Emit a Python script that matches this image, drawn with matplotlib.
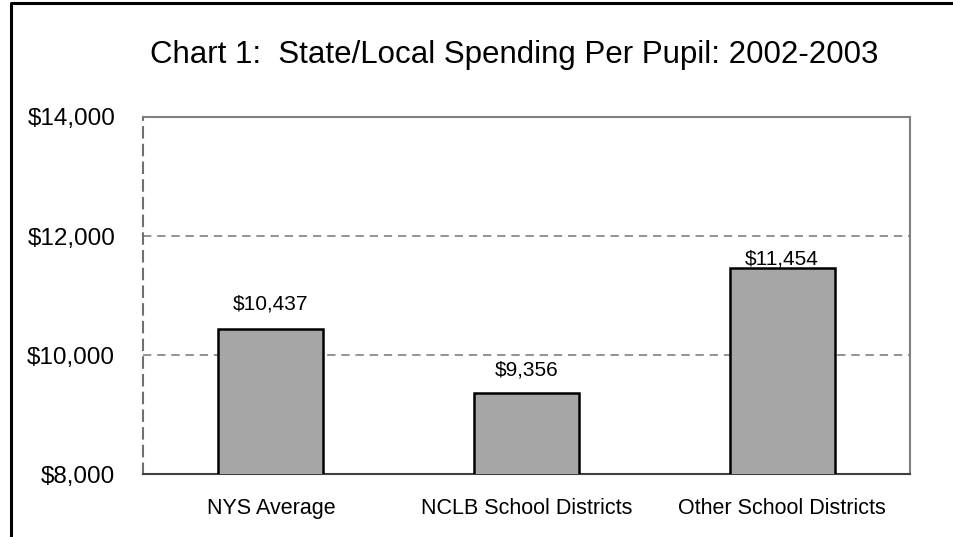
import matplotlib
matplotlib.use("Agg")
import matplotlib.pyplot as plt
from matplotlib.ticker import FuncFormatter
from matplotlib.lines import Line2D

categories = ["NYS Average", "NCLB School Districts", "Other School Districts"]
values = [10437, 9356, 11454]
yticks = [8000, 10000, 12000, 14000]
title = "Chart 1:  State/Local Spending Per Pupil: 2002-2003"

plt.rcParams['font.family'] = ['Liberation Sans', 'DejaVu Sans']

fig = plt.figure(figsize=(9.54, 5.37), dpi=100)
ax = fig.add_axes([143/954, 1-474/537, (910-143)/954, (474-117)/537])

x = list(range(len(categories)))
ax.bar(x, values, width=0.41, color="#A6A6A6", edgecolor="black", linewidth=1.8, zorder=3)
ax.set_xlim(-0.5, 2.5)
ax.set_ylim(8000, 14000)
ax.set_yticks(yticks)
ax.yaxis.set_major_formatter(FuncFormatter(lambda v, p: "${:,.0f}".format(v)))
ax.set_xticks(x)
ax.set_xticklabels(categories, fontsize=15.5)
ax.tick_params(axis='y', labelsize=17.5, length=0, pad=20)
ax.tick_params(axis='x', length=0, pad=17)

for yv in [10000, 12000]:
    ax.axhline(yv, color="#808080", linestyle=(0, (5, 3.5)), linewidth=1.2, zorder=1)

for s in ['top', 'right']:
    ax.spines[s].set_color('#808080')
    ax.spines[s].set_linewidth(1.5)
ax.spines['left'].set_color('#707070')
ax.spines['left'].set_linestyle((0, (5, 3.5)))
ax.spines['left'].set_linewidth(1.5)
ax.spines['bottom'].set_color('#404040')
ax.spines['bottom'].set_linewidth(1.5)

offsets = [14, 13, 3]
for xi, v, off in zip(x, values, offsets):
    ax.annotate("${:,.0f}".format(v), (xi, v), xytext=(0, off), textcoords='offset points',
                ha='center', va='baseline', fontsize=15)

fig.text(514/954, 1-63/537, title, ha='center', va='baseline', fontsize=22.5)

# outer border (left, top)
fig.add_artist(Line2D([11/954, 11/954, 1], [0, 1-3/537, 1-3/537],
                      transform=fig.transFigure, color='black', linewidth=2.2))

fig.savefig("out.png", dpi=100)
